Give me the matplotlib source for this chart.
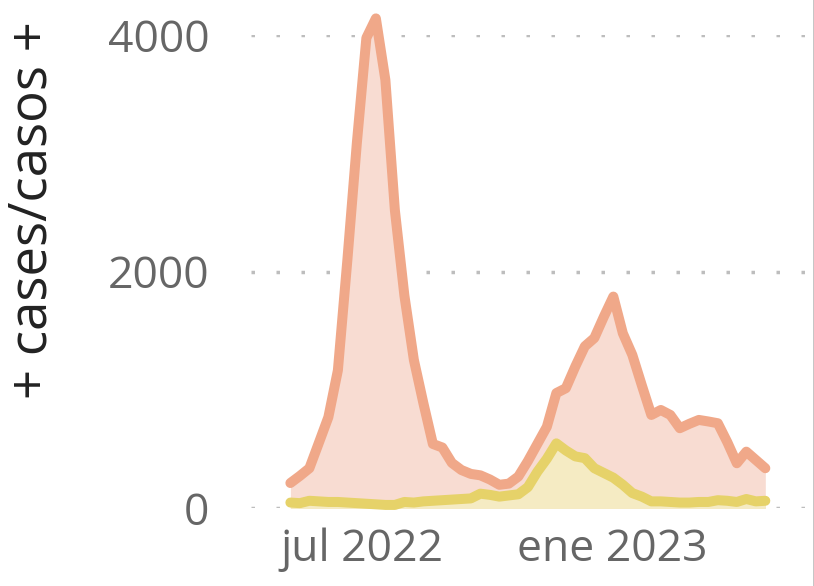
import numpy as np
import pandas as pd
import matplotlib
matplotlib.use("Agg")
import matplotlib.pyplot as plt
import matplotlib.dates as mdates

plt.rcParams['font.family'] = ['Open Sans', 'DejaVu Sans']

# ==========================================
# Weekly case counts
# ==========================================
weeks = pd.date_range('2022-05-09', periods=51, freq='7D')

cases_total = [215, 275, 340, 555, 772, 1167, 2100, 3090, 3975, 4140,
               3620, 2520, 1800, 1255, 890, 545, 515, 385, 325, 292,
               280, 245, 200, 210, 270, 400, 545, 690, 975, 1016,
               1200, 1370, 1440, 1620, 1790, 1480, 1297, 1040, 790, 832,
               790, 678, 715, 748, 735, 720, 560, 382, 480, 410,
               340]

cases_sub = [50, 45, 65, 60, 55, 55, 50, 45, 40, 35,
             30, 30, 55, 50, 60, 65, 70, 75, 80, 85,
             125, 115, 100, 110, 120, 180, 310, 420, 550, 490,
             440, 425, 340, 300, 260, 200, 130, 100, 60, 60,
             55, 50, 50, 55, 55, 70, 65, 55, 80, 60,
             65]

y_ticks = [0, 2000, 4000]
x_tick_dates = pd.to_datetime(['2022-07-01', '2023-01-01'])
x_tick_labels = ['jul 2022', 'ene 2023']

# ==========================================
# Plot
# ==========================================
fig = plt.figure(figsize=(8.14, 5.86), dpi=100)
ax = fig.add_axes([0.3084, 0.1323, 0.6818, 0.808])

salmon_line, salmon_fill = '#F0A889', '#F8DCD2'
yellow_line, yellow_fill = '#E6D269', '#F5EBC3'
lw = 7.2

ax.fill_between(weeks, 0, cases_total, color=salmon_fill, lw=0, clip_on=False, zorder=2)
ax.plot(weeks, cases_total, color=salmon_line, lw=lw, solid_capstyle='round',
        solid_joinstyle='round', clip_on=False, zorder=3)
ax.fill_between(weeks, 0, cases_sub, color=yellow_fill, lw=0, clip_on=False, zorder=4)
ax.plot(weeks, cases_sub, color=yellow_line, lw=lw, solid_capstyle='round',
        solid_joinstyle='round', clip_on=False, zorder=5)

ax.set_ylim(0, 4000)
ax.set_xlim(pd.Timestamp('2022-04-10'), pd.Timestamp('2023-05-24'))

ax.set_yticks(y_ticks)
ax.set_yticklabels([str(v) for v in y_ticks])
ax.set_xticks(x_tick_dates)
ax.set_xticklabels(x_tick_labels)

ax.tick_params(axis='both', length=0, labelsize=32, labelcolor='#666666')
ax.tick_params(axis='y', pad=30)
ax.tick_params(axis='x', pad=14)

for s in ax.spines.values():
    s.set_visible(False)

ax.grid(axis='y', color='#bdbdbd', linewidth=2.5, linestyle=(0, (1, 6.2)), zorder=1)
ax.grid(axis='x', visible=False)

ax.set_ylabel('+ cases/casos +', fontsize=38, color='#222222')
ax.yaxis.set_label_coords(-0.345, 0.63)

# thin border on the right edge
fig.add_artist(plt.Line2D([0.9994, 0.9994], [0, 1], color='#bbbbbb', lw=1.2,
                          transform=fig.transFigure))

fig.savefig('out.png', dpi=100)
